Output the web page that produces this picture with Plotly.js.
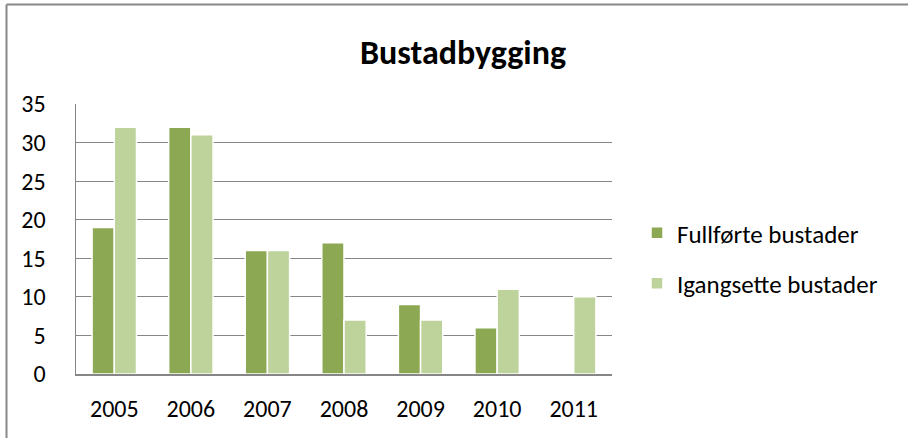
<!DOCTYPE html>
<html>
<head>
<meta charset="utf-8">
<script src="https://cdn.plot.ly/plotly-3.0.1.min.js"></script>
<style>html,body{margin:0;padding:0;background:#fff;}#chart{width:908px;height:438px;}</style>
</head>
<body>
<div id="chart"></div>
<script>
const years = ['2005','2006','2007','2008','2009','2010','2011'];
const fullforte = [19, 32, 16, 17, 9, 6, null];
const igangsette = [32, 31, 16, 7, 7, 11, 10];
const seriesNames = ['Fullførte bustader', 'Igangsette bustader'];
const yTicks = [0, 5, 10, 15, 20, 25, 30, 35];

const font = 'Carlito, Calibri, "Open Sans", "Noto Sans", sans-serif';

const traces = [
  {type:'bar', x: years, y: fullforte, name: seriesNames[0], legendgroup:'a',
   marker:{color:'#8DA852', line:{color:'#ffffff', width:1.5}}},
  {type:'bar', x: years, y: igangsette, name: seriesNames[1], legendgroup:'b',
   marker:{color:'#BDD39B', line:{color:'#ffffff', width:1.5}}}
];

const layout = {
  width: 908, height: 438,
  margin: {l:76, r:296, t:104, b:64},
  paper_bgcolor:'#ffffff', plot_bgcolor:'#ffffff',
  font: {family: font, color:'#000000', size:24},
  title: {text:'<b>Bustadbygging</b>', font:{size:34, family:font}, xref:'container', x:463/908, xanchor:'center', yref:'container', y:1-52/438, yanchor:'middle'},
  barmode:'group', bargap:0.42, bargroupgap:0,
  xaxis: {type:'category', showgrid:false, showline:true, linecolor:'#868686', linewidth:2,
          ticks:'', tickfont:{size:24}, ticklabelstandoff:12, zeroline:false},
  yaxis: {range:[0,35], tickvals:yTicks, showgrid:true, gridcolor:'#868686', gridwidth:1,
          showline:true, linecolor:'#868686', linewidth:1.5, ticks:'', zeroline:false,
          tickfont:{size:24}, ticklabelstandoff:24},
  showlegend:true,
  legend: {xref:'container', yref:'container', x:637/908, y:1-258/438, xanchor:'left', yanchor:'middle',
           font:{size:25}, tracegroupgap:15, traceorder:'grouped', itemwidth:30, bgcolor:'rgba(0,0,0,0)'},
  shapes: [
    {type:'line', xref:'paper', yref:'paper', x0:(6.5-76)/536, x1:(908-76)/536+0.01, y0:1+(104-4.5)/270, y1:1+(104-4.5)/270, line:{color:'#888888', width:2}},
    {type:'line', xref:'paper', yref:'paper', x0:(6.5-76)/536, x1:(6.5-76)/536, y0:1+(104-4.5)/270, y1:(374-440)/270, line:{color:'#888888', width:2}}
  ]
};

Plotly.newPlot('chart', traces, layout, {displayModeBar:false, staticPlot:true});
</script>
</body>
</html>
